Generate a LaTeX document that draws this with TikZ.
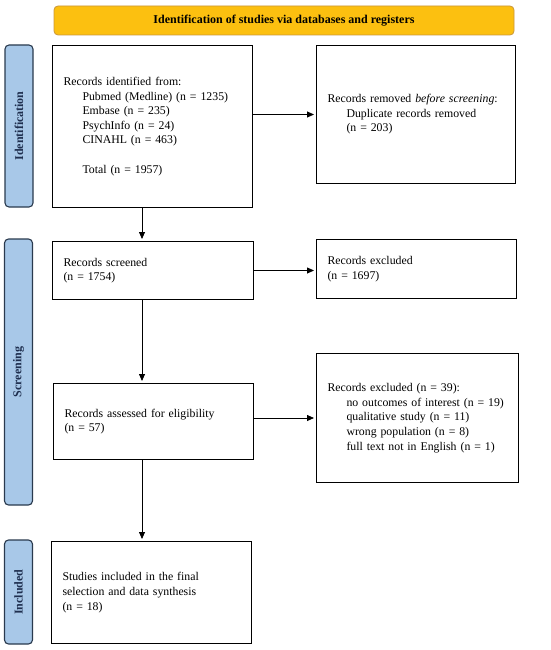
\documentclass[tikz,border=0pt]{standalone}
\usepackage{fontspec}
\setmainfont{Liberation Serif}
\usetikzlibrary{arrows.meta}
\definecolor{bannerfill}{HTML}{FCC010}
\definecolor{bannerdraw}{HTML}{C9963A}
\definecolor{sidefill}{HTML}{A8C8E8}
\definecolor{sidedraw}{HTML}{2A3A4E}
\definecolor{sidetext}{HTML}{1F2F4F}
\begin{document}
\begin{tikzpicture}[x=1pt,y=-1pt,
  box/.style={draw=black, line width=1pt, inner xsep=11pt, inner ysep=0pt, align=left,
    anchor=north west, font=\fontsize{11.8}{14.6}\selectfont},
  side/.style={draw=sidedraw, fill=sidefill, line width=1.1pt, rounded corners=4pt, rotate=90,
    minimum height=28pt, inner sep=0pt, text=sidetext, font=\fontsize{12}{13}\selectfont\bfseries},
  banner/.style={draw=bannerdraw, fill=bannerfill, line width=0.8pt, rounded corners=4pt,
    minimum width=460pt, minimum height=29pt, inner sep=0pt, font=\fontsize{12}{13}\selectfont\bfseries},
  flow/.style={draw=black, line width=0.8pt, -{Triangle[length=7pt,width=6pt]}, shorten >=2pt}]
\useasboundingbox (0,0) rectangle (550,650);
\node[banner] (ban) at (284,20.5) {Identification of studies via databases and registers};
\node[side, minimum width=162pt] (s1) at (19,126) {Identification};
\node[side, minimum width=266pt] (s2) at (18.5,372) {Screening};
\node[side, minimum width=104pt] (s3) at (18.5,592) {Included};
\node[box, text width=178pt, minimum width=200pt, minimum height=162pt] (b1) at (52,45) {Records identified from:\\
\hspace*{19pt}Pubmed (Medline) (n = 1235)\\
\hspace*{19pt}Embase (n = 235)\\
\hspace*{19pt}PsychInfo (n = 24)\\
\hspace*{19pt}CINAHL (n = 463)\\[14.6pt]
\hspace*{19pt}Total (n = 1957)};
\node[box, text width=177pt, minimum width=199pt, minimum height=138pt] (b2) at (316,45) {Records removed \textit{before screening}:\\
\hspace*{19pt}Duplicate records removed\\
\hspace*{19pt}(n = 203)};
\node[box, text width=179pt, minimum width=201pt, minimum height=58pt] (b3) at (52,241) {Records screened\\(n = 1754)};
\node[box, text width=178pt, minimum width=200pt, minimum height=59pt] (b4) at (316,239) {Records excluded\\(n = 1697)};
\node[box, text width=178pt, minimum width=200pt, minimum height=76pt] (b5) at (53,383) {Records assessed for eligibility\\(n = 57)};
\node[box, text width=180pt, minimum width=202pt, minimum height=129pt] (b6) at (316,353) {Records excluded (n = 39):\\
\hspace*{19pt}no outcomes of interest (n = 19)\\
\hspace*{19pt}qualitative study (n = 11)\\
\hspace*{19pt}wrong population (n = 8)\\
\hspace*{19pt}full text not in English (n = 1)};
\node[box, text width=178pt, minimum width=200pt, minimum height=102pt] (b7) at (51,541) {Studies included in the final\\selection and data synthesis\\(n = 18)};
\coordinate (ax) at (142,0);
\draw[flow] (b1.south -| ax) -- (b3.north -| ax);
\draw[flow] (b3.south -| ax) -- (b5.north -| ax);
\draw[flow] (b5.south -| ax) -- (b7.north -| ax);
\draw[flow] (b1.east |- b2.west) -- (b2.west);
\draw[flow] (b3.east) -- (b3.east -| b4.west);
\draw[flow] (b5.east |- b6.west) -- (b6.west);
\end{tikzpicture}
\end{document}
